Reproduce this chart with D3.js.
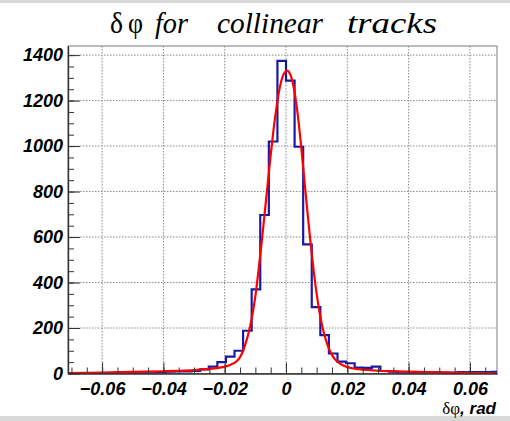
<!DOCTYPE html>
<html><head><meta charset="utf-8">
<script src="https://cdn.jsdelivr.net/npm/d3@7"></script>
<style>
html,body{margin:0;padding:0;background:#fff;}
svg{display:block;}
</style></head>
<body>
<script>
// ---- data ----
const binWidth = 0.0028;
const binStart = -0.0728; // left edge of first bin
const histCounts = [1,1,1,2,2,2,4,5,3,1,1,6,8,9,9,11,18,30,50,74,100,188,370,697,1020,1375,1288,997,568,292,169,88,52,45,26,25,30,11,8,1,1,5,5,6,4,3,6,6,6,6,7];
const fitX = [-0.0711,-0.06,-0.05,-0.04,-0.035,-0.03,-0.025,-0.022,-0.02,-0.018,-0.016,-0.015,-0.014,-0.013,-0.012,-0.011,-0.010,-0.009,-0.008,-0.007,-0.006,-0.005,-0.004,-0.003,-0.002,-0.001,0,0.0003,0.001,0.002,0.003,0.004,0.005,0.006,0.007,0.008,0.009,0.010,0.011,0.012,0.013,0.014,0.015,0.016,0.018,0.020,0.022,0.025,0.03,0.035,0.04,0.05,0.06,0.0689];
const fitY = [2,4,7,10,12,15,20,25,30,39,55,72,100,140,190,255,340,450,570,700,830,960,1080,1180,1260,1310,1330,1332,1325,1290,1220,1120,990,850,710,575,455,350,265,198,148,110,82,62,40,28,22,17,12,10,8,5,3,1];
const xTicks = [-0.06,-0.04,-0.02,0,0.02,0.04,0.06];
const xTickLabels = ["\u22120.06","\u22120.04","\u22120.02","0","0.02","0.04","0.06"];
const yTicks = [0,200,400,600,800,1000,1200,1400];
const xDomain = [-0.07113, 0.06884];
const yDomain = [0, 1440];

// ---- layout ----
const W = 510, H = 421;
const L = 68, R = 497, T = 46, B = 373.5;

const svg = d3.select("body").append("svg").attr("width", W).attr("height", H);
svg.append("rect").attr("width", W).attr("height", H).attr("fill", "#fff");
svg.append("rect").attr("x",0).attr("y",0).attr("width",W).attr("height",3).attr("fill","#d9d9d9");
svg.append("rect").attr("x",0).attr("y",416).attr("width",W).attr("height",5).attr("fill","#d9d9d9");

const x = d3.scaleLinear().domain(xDomain).range([L, R]);
const y = d3.scaleLinear().domain(yDomain).range([B, T]);

// grid
const grid = svg.append("g");
grid.selectAll("line.vx").data(xTicks).join("line")
  .attr("x1", d => x(d)).attr("x2", d => x(d)).attr("y1", T).attr("y2", B)
  .attr("stroke", "#8a8a8a").attr("stroke-width", 1).attr("stroke-dasharray", "1.5,1.5");
grid.selectAll("line.hy").data(yTicks.filter(d => d > 0)).join("line")
  .attr("x1", L).attr("x2", R).attr("y1", d => y(d)).attr("y2", d => y(d))
  .attr("stroke", "#8a8a8a").attr("stroke-width", 1).attr("stroke-dasharray", "1.5,1.5");

// frame (top/right)
svg.append("rect").attr("x", L).attr("y", T).attr("width", R - L).attr("height", B - T)
  .attr("fill", "none").attr("stroke", "#7a7a7a").attr("stroke-width", 1);

svg.append("clipPath").attr("id", "clip").append("rect")
  .attr("x", L).attr("y", T).attr("width", R - L).attr("height", B - T);

// histogram
const histPts = histCounts.map((c, i) => [binStart + i * binWidth, c]);
histPts.push([binStart + histCounts.length * binWidth, histCounts[histCounts.length - 1]]);
const stepLine = d3.line().x(d => x(d[0])).y(d => y(d[1])).curve(d3.curveStepAfter);
svg.append("path").attr("clip-path", "url(#clip)")
  .attr("d", stepLine(histPts)).attr("fill", "none")
  .attr("stroke", "#000099").attr("stroke-width", 2.2).attr("stroke-opacity", 0.9);

// fit curve
const fitPts = fitX.map((v, i) => [v, fitY[i]]);
const fitLine = d3.line().x(d => x(d[0])).y(d => y(d[1])).curve(d3.curveMonotoneX);
svg.append("path").attr("clip-path", "url(#clip)")
  .attr("d", fitLine(fitPts)).attr("fill", "none")
  .attr("stroke", "#ff0000").attr("stroke-width", 2.2);

// axes
const labelFont = "'Liberation Sans', Arial, sans-serif";
const xMinor = d3.range(-0.07, 0.0689, 0.005).map(v => +v.toFixed(3));
const gxm = svg.append("g").attr("transform", `translate(0,${B})`)
  .call(d3.axisBottom(x).tickValues(xMinor).tickSizeInner(-6).tickSizeOuter(0).tickFormat(""));
const gx = svg.append("g").attr("transform", `translate(0,${B})`)
  .call(d3.axisBottom(x).tickValues(xTicks).tickSizeInner(-11).tickSizeOuter(0).tickPadding(9)
    .tickFormat((d, i) => xTickLabels[i]));
const yMinor = d3.range(0, 1441, 50);
const gym = svg.append("g").attr("transform", `translate(${L},0)`)
  .call(d3.axisLeft(y).tickValues(yMinor).tickSizeInner(-6).tickSizeOuter(0).tickFormat(""));
const gy = svg.append("g").attr("transform", `translate(${L},0)`)
  .call(d3.axisLeft(y).tickValues(yTicks).tickSizeInner(-12).tickSizeOuter(0).tickPadding(5)
    .tickFormat(d3.format("d")));
[gxm, gx, gym, gy].forEach(g => {
  g.select(".domain").attr("stroke", "#333").attr("stroke-width", 1.2);
  g.selectAll(".tick line").attr("stroke", "#333").attr("stroke-width", 1);
  g.selectAll("text").attr("font-family", labelFont).attr("font-size", 18)
    .attr("font-weight", "bold").attr("font-style", "italic").attr("fill", "#000");
});

// title
const serif = "'Liberation Serif', 'Times New Roman', serif";
const tg = svg.append("g").attr("font-family", serif).attr("font-size", 29).attr("fill", "#000");
const words = [
  {t: "δ", x: 110, w: 13, it: false},
  {t: "φ", x: 128, w: 15, it: false},
  {t: "for", x: 155, w: 33, it: true},
  {t: "collinear", x: 217, w: 106, it: true},
  {t: "tracks", x: 347, w: 90, it: true}
];
words.forEach(d => {
  tg.append("text").attr("x", d.x).attr("y", 33)
    .attr("font-style", d.it ? "italic" : "normal")
    .attr("textLength", d.w).attr("lengthAdjust", "spacingAndGlyphs")
    .text(d.t);
});

// x-axis title
const xt = svg.append("text").attr("x", 496).attr("y", 414).attr("text-anchor", "end")
  .attr("font-size", 17).attr("fill", "#000");
xt.append("tspan").attr("font-family", serif).text("δφ");
xt.append("tspan").attr("font-family", labelFont).attr("font-weight", "bold").attr("font-style", "italic").text(", rad");
</script>
</body></html>
